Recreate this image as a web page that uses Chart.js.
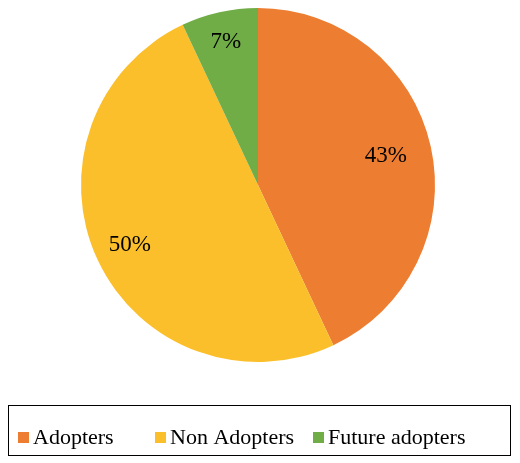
<!DOCTYPE html>
<html><head><meta charset="utf-8">
<script src="https://cdn.jsdelivr.net/npm/chart.js@4"></script>
<style>html,body{margin:0;padding:0;background:#fff}#w{width:520px;height:463px}</style>
</head><body><div id="w"><canvas id="c" width="520" height="463"></canvas></div>
<script>
const categories = ["Adopters", "Non Adopters", "Future adopters"];
const values = [43, 50, 7];
const labels = ["43%", "50%", "7%"];
const colors = ["#ED7D31", "#FBBF2B", "#70AD47"];

const labelPlugin = {
  id: 'lbl',
  afterDatasetsDraw(chart) {
    const ctx = chart.ctx;
    const meta = chart.getDatasetMeta(0);
    ctx.save();
    ctx.font = '23px "Liberation Serif"';
    ctx.fillStyle = '#000';
    ctx.textAlign = 'center'; ctx.textBaseline = 'middle';
    const fr = [0.74, 0.8, 0.83];
    meta.data.forEach((a, i) => {
      const mid = (a.startAngle + a.endAngle) / 2;
      const r = a.outerRadius * fr[i];
      ctx.fillText(labels[i], a.x + Math.cos(mid) * r, a.y + Math.sin(mid) * r);
    });
    // legend
    ctx.strokeStyle = '#000'; ctx.lineWidth = 1;
    ctx.strokeRect(8.5, 405.5, 502, 50);
    ctx.font = '22px "Liberation Serif"';
    ctx.textAlign = 'left';
    const xs = [18, 155, 313];
    categories.forEach((c, i) => {
      ctx.fillStyle = colors[i];
      ctx.fillRect(xs[i], 432, 11, 11);
      ctx.fillStyle = '#000';
      ctx.fillText(c, xs[i] + 15, 438);
    });
    ctx.restore();
  }
};

new Chart(document.getElementById('c'), {
  type: 'pie',
  data: { labels: categories, datasets: [{ data: values, backgroundColor: colors, borderWidth: 0 }] },
  options: {
    responsive: false, animation: false,
    layout: { padding: { top: 8, bottom: 101, left: 0, right: 4 } },
    plugins: { tooltip: { enabled: false }, legend: { display: false } }
  },
  plugins: [labelPlugin]
});
</script></body></html>
